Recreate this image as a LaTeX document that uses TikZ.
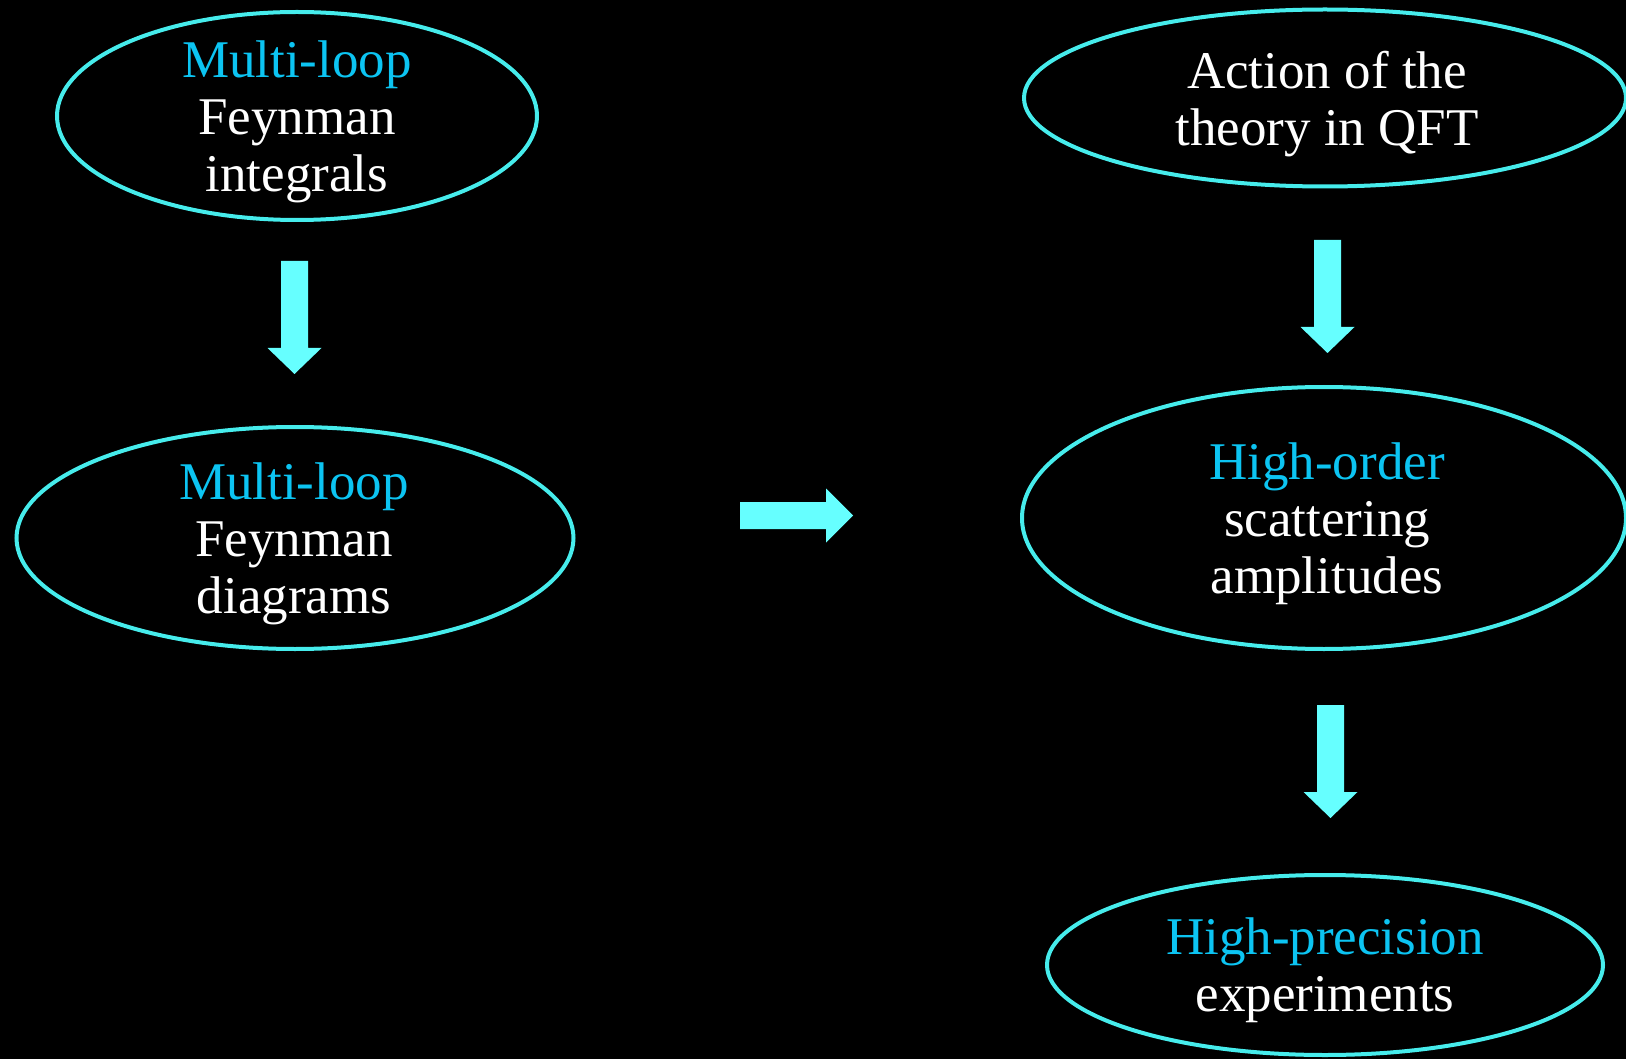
\documentclass[tikz,border=0pt]{standalone}
\usepackage{fontspec}
\setmainfont{Liberation Serif}
\usetikzlibrary{shapes.geometric}

\definecolor{ringcol}{RGB}{70,236,236}
\definecolor{arrowcol}{RGB}{102,255,255}
\definecolor{hlcol}{RGB}{12,196,242}

\tikzset{
  oval/.style={ellipse, draw=ringcol, line width=4pt, inner sep=0pt},
  txt/.style={text=white, align=center, inner sep=0pt,
              font=\fontsize{53}{57}\selectfont},
  fatdown/.pic={
    \fill[arrowcol] (-13.5,0) -- (13.5,0) -- (13.5,87) -- (27,87) -- (0,113)
      -- (-27,87) -- (-13.5,87) -- cycle;
  },
  fatright/.pic={
    \fill[arrowcol] (0,-13.5) -- (0,13.5) -- (86,13.5) -- (86,27) -- (113,0)
      -- (86,-27) -- (86,-13.5) -- cycle;
  }
}
\newcommand{\hl}[1]{\textcolor{hlcol}{#1}}

\begin{document}
\begin{tikzpicture}[x=1pt, y=-1pt]
  \fill[black] (0,0) rectangle (1626,1059);
  \useasboundingbox (0,0) rectangle (1626,1059);

  % outlines
  \node[oval, minimum width=480pt, minimum height=208pt] (e1) at (297,116) {};
  \node[oval, minimum width=557pt, minimum height=222pt] (e2) at (295,538) {};
  \node[oval, minimum width=602pt, minimum height=177pt] (e3) at (1325,98) {};
  \node[oval, minimum width=604pt, minimum height=262pt] (e4) at (1324,518) {};
  \node[oval, minimum width=556pt, minimum height=180pt] (e5) at (1325,965) {};

  % texts
  \node[txt] (t1) at (297,122) {\hl{Multi-loop}\\Feynman\\integrals};
  \node[txt] (t2) at (294,543.5) {\hl{Multi-loop}\\Feynman\\diagrams};
  \node[txt] (t3) at (1327,104) {Action of the\\theory in QFT};
  \node[txt] (t4) at (1327,523.5) {\hl{High-order}\\scattering\\amplitudes};
  \node[txt] (t5) at (1325,970) {\hl{High-precision}\\experiments};

  % block arrows
  \coordinate (a1) at (294.5,261);
  \coordinate (a2) at (1327.5,240);
  \coordinate (a3) at (1330.5,705);
  \coordinate (a4) at (740,515.5);
  \pic at (a1) {fatdown};
  \pic at (a2) {fatdown};
  \pic at (a3) {fatdown};
  \pic at (a4) {fatright};
\end{tikzpicture}
\end{document}
